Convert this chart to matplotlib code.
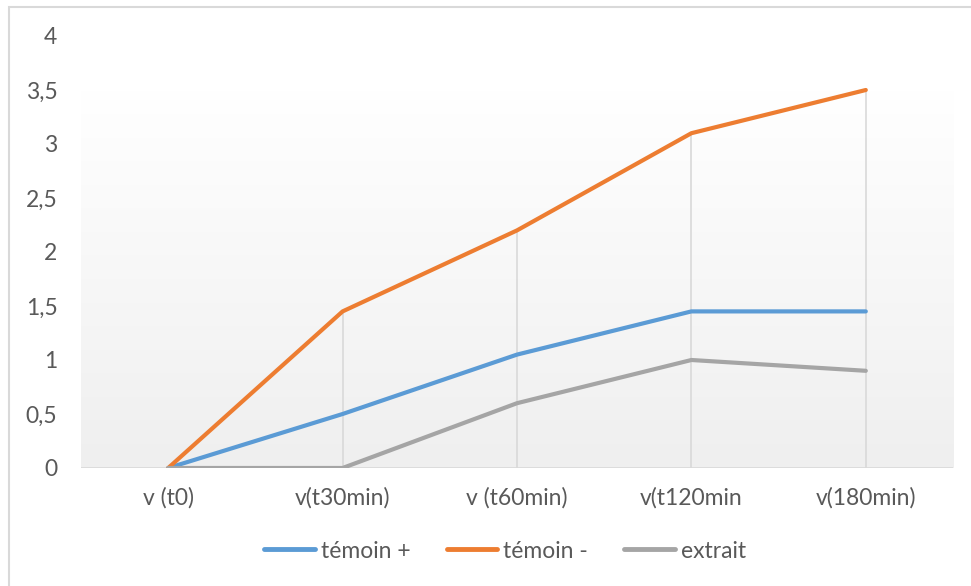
import matplotlib.pyplot as plt
import numpy as np
from matplotlib.colors import LinearSegmentedColormap
from matplotlib.patches import Rectangle
from matplotlib.lines import Line2D
from matplotlib.ticker import FuncFormatter

categories = ["v (t0)", "v(t30min)", "v (t60min)", "v(t120min", "v(180min)"]
temoin_pos = [0, 0.5, 1.05, 1.45, 1.45]
temoin_neg = [0, 1.45, 2.2, 3.1, 3.5]
extrait = [0, 0, 0.6, 1.0, 0.9]

series = [
    ("témoin +", temoin_pos, "#5b9bd5"),
    ("témoin -", temoin_neg, "#ed7d31"),
    ("extrait", extrait, "#a5a5a5"),
]

plt.rcParams["font.family"] = ["Lato", "DejaVu Sans"]
TEXT = "#595959"
GRID = "#d9d9d9"
FS = 16.5

W, H = 971, 586
fig = plt.figure(figsize=(W / 100, H / 100), dpi=100)
ax = fig.add_axes([81 / W, 1 - 468 / H, (953 - 81) / W, (468 - 36) / H])

x = np.arange(len(categories))

# plot area fill: white at the top fading to light grey at the bottom
grad = np.linspace(0.0, 1.0, 256).reshape(-1, 1)
bg = LinearSegmentedColormap.from_list("bg", ["#efefef", "#ffffff"])
ax.imshow(grad, cmap=bg, aspect="auto", origin="lower",
          extent=(-0.5, len(categories) - 0.5, 0, 3.5), zorder=0)
ax.set_xlim(-0.5, len(categories) - 0.5)
ax.set_ylim(0, 4)

# drop lines from the highest series down to the axis
tops = np.max([temoin_pos, temoin_neg, extrait], axis=0)
ax.vlines(x, 0, tops, color=GRID, lw=1.2, zorder=1)
ax.axhline(0, color=GRID, lw=1.2, zorder=1)

for label, vals, color in series:
    ax.plot(x, vals, color=color, lw=3, solid_capstyle="round",
            solid_joinstyle="round", label=label, zorder=3)

for s in ax.spines.values():
    s.set_visible(False)
ax.set_xticks(x)
ax.set_xticklabels(categories)
ax.set_yticks(np.arange(0, 4.01, 0.5))
ax.yaxis.set_major_formatter(FuncFormatter(lambda v, _: f"{v:g}".replace(".", ",")))
ax.tick_params(length=0, labelsize=FS, colors=TEXT)
ax.tick_params(axis="x", pad=14)
ax.tick_params(axis="y", pad=17)

handles = [Line2D([0], [0], color=c, lw=3.5, solid_capstyle="round") for _, _, c in series]
fig.legend(handles, [s[0] for s in series], loc="center",
           bbox_to_anchor=(505 / W, 1 - 551 / H), ncol=3, frameon=False,
           fontsize=FS, labelcolor=TEXT, handlelength=2.2, handletextpad=0.25,
           columnspacing=1.6)

# chart frame
fig.patches.append(Rectangle((9 / W, -0.05), 1.05, 1 - 7 / H + 0.05,
                             transform=fig.transFigure, fill=False,
                             edgecolor=GRID, lw=1.5))

fig.savefig("out.png", dpi=100)
